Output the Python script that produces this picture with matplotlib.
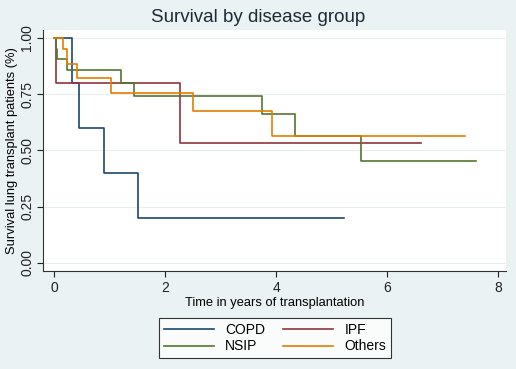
import numpy as np
import matplotlib.pyplot as plt

plt.rcParams['font.family'] = ['Liberation Sans', 'DejaVu Sans']

# Kaplan-Meier step points (time in years, survival)
copd_t = [0, 0.33, 0.45, 0.9, 1.52, 5.22]
copd_s = [1.0, 0.8, 0.6, 0.4, 0.2, 0.2]

ipf_t = [0, 0.03, 2.27, 6.6]
ipf_s = [1.0, 0.8, 0.533, 0.533]

nsip_t = [0, 0.03, 0.06, 0.23, 1.21, 1.44, 3.75, 4.33, 5.53, 7.6]
nsip_s = [1.0, 0.953, 0.905, 0.857, 0.8, 0.743, 0.66, 0.565, 0.452, 0.452]

others_t = [0, 0.17, 0.23, 0.42, 1.03, 2.5, 3.93, 7.4]
others_s = [1.0, 0.95, 0.885, 0.82, 0.755, 0.676, 0.565, 0.565]

series = [("COPD", copd_t, copd_s, "#1a476f"),
          ("IPF", ipf_t, ipf_s, "#90353b"),
          ("NSIP", nsip_t, nsip_s, "#55752f"),
          ("Others", others_t, others_s, "#e37e00")]

bg = "#eaf2f3"
fig = plt.figure(figsize=(5.16, 3.69), dpi=100, facecolor=bg)
ax = fig.add_axes([0.083, 0.266, 0.898, 0.653])
ax.set_facecolor("white")

for name, t, s, c in series:
    ax.step(t, s, where="post", color=c, lw=1.2, label=name)

ax.set_xlim(-0.2, 8.14)
ax.set_ylim(-0.036, 1.036)
ax.set_xticks([0, 2, 4, 6, 8])
ax.set_yticks([0, 0.25, 0.5, 0.75, 1.0])
ax.set_yticklabels(["0.00", "0.25", "0.50", "0.75", "1.00"], rotation=90, va="center")
ax.grid(axis="y", color="#e8eef0", lw=0.8)
ax.set_axisbelow(True)
for sp in ["top", "right"]:
    ax.spines[sp].set_visible(False)
for sp in ["left", "bottom"]:
    ax.spines[sp].set_color("#333333")
ax.tick_params(colors="#222222", labelsize=10, length=4)
ax.tick_params(axis="y", pad=2)

ax.set_xlabel("Time in years of transplantation", fontsize=9.3, labelpad=1)
ax.set_ylabel("Survival lung transplant patients (%)", fontsize=9.3, labelpad=2)
fig.suptitle("Survival by disease group", y=0.975, fontsize=13.5, color="#1e2a36")

handles, labels = ax.get_legend_handles_labels()
order = [0, 2, 1, 3]
leg = fig.legend([handles[i] for i in order], [labels[i] for i in order],
                 loc="center", bbox_to_anchor=(0.533, 0.083), ncol=2,
                 fontsize=10, frameon=True, fancybox=False, edgecolor="black",
                 handlelength=3.6, handletextpad=0.8, columnspacing=1.3,
                 borderpad=0.35, labelspacing=0.15)
leg.get_frame().set_linewidth(0.8)

fig.savefig("out.png", dpi=100, facecolor=bg)
